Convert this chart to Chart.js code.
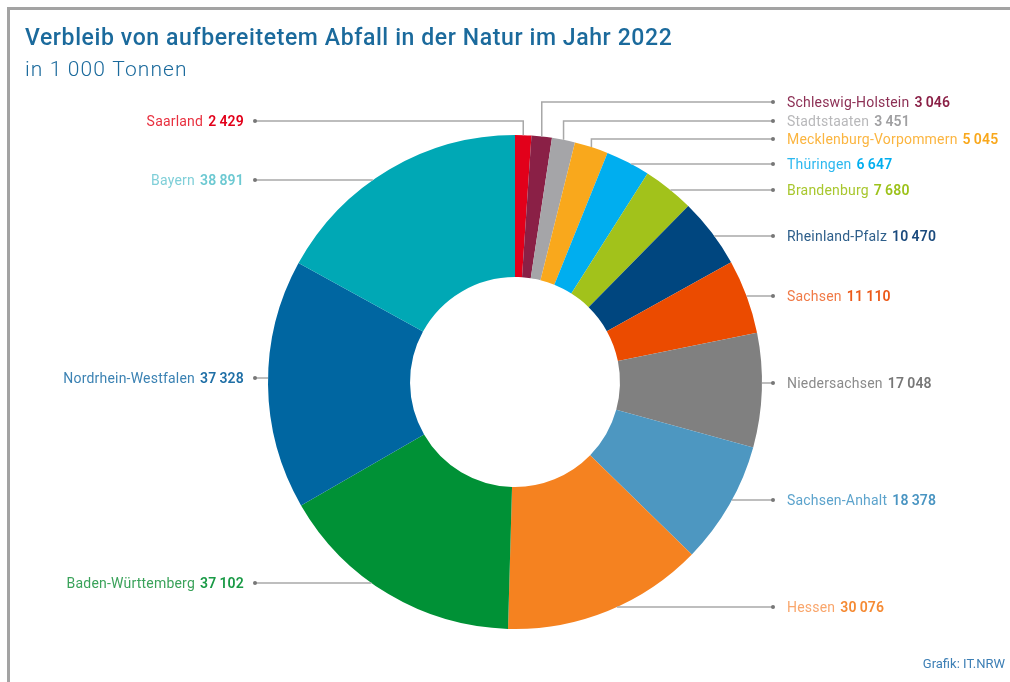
<!DOCTYPE html>
<html lang="de">
<head>
<meta charset="utf-8">
<title>Verbleib von aufbereitetem Abfall in der Natur im Jahr 2022</title>
<script src="https://cdn.jsdelivr.net/npm/chart.js@4"></script>
<style>
  html, body { margin: 0; padding: 0; background: #fff; }
  canvas { display: block; }
</style>
</head>
<body>
<canvas id="abfallChart" width="1010" height="682"></canvas>
<script>
// Werte in 1 000 Tonnen, im Uhrzeigersinn ab 12 Uhr
const regions = [
    'Saarland', 'Schleswig-Holstein', 'Stadtstaaten', 'Mecklenburg-Vorpommern',
    'Thüringen', 'Brandenburg', 'Rheinland-Pfalz', 'Sachsen', 'Niedersachsen',
    'Sachsen-Anhalt', 'Hessen', 'Baden-Württemberg', 'Nordrhein-Westfalen', 'Bayern'
];
const tonnes = [2429, 3046, 3451, 5045, 6647, 7680, 10470, 11110, 17048, 18378, 30076, 37102, 37328, 38891];

const sliceColors = [
    '#e2001a', '#8a2046', '#a5a5a8', '#f9a81c', '#00aeef', '#a2c21b', '#00467f',
    '#eb4b00', '#808080', '#4d97c1', '#f58220', '#009136', '#0066a1', '#00a8b5'
];
const nameColors = [
    '#e8303f', '#8d3055', '#b8b8ba', '#fbb540', '#2cb8ef', '#a8c72e', '#2d5e8a',
    '#f07a47', '#8a8a8a', '#5ca3cc', '#f9a66c', '#3aa25a', '#3b82b3', '#7fcfd8'
];
const valueColors = [
    '#e2001a', '#8a2046', '#a0a0a2', '#f9a81c', '#00aeef', '#9dc21b', '#1a4a7d',
    '#ec5a1a', '#777777', '#4a95c2', '#f58a33', '#1a9a46', '#1f6fa6', '#6dc9d2'
];

// Lage der Beschriftungen (Layout, keine Daten)
const labelSide = ['L', 'R', 'R', 'R', 'R', 'R', 'R', 'R', 'R', 'R', 'R', 'L', 'L', 'L'];
const labelY = [121, 102, 121, 139, 164, 190, 236, 296, 383, 500, 607, 583, 378, 180];
const leftDotX = 255;
const rightDotX = 773;

function fmt(v) {
    return String(v).replace(/\B(?=(\d{3})+(?!\d))/g, '\u2009');
}

const FONT = 'Roboto, "Noto Sans", sans-serif';

const decorations = {
    id: 'decorations',
    afterDraw(chart) {
        const ctx = chart.ctx;
        const arcs = chart.getDatasetMeta(0).data;
        ctx.save();

        // Rahmen
        ctx.fillStyle = '#a3a3a3';
        ctx.fillRect(7, 7, 1003, 3);
        ctx.fillRect(7, 7, 3, 675);

        // Titel
        ctx.textBaseline = 'alphabetic';
        ctx.textAlign = 'left';
        ctx.fillStyle = '#1b6a9c';
        ctx.font = '500 23px ' + FONT;
        ctx.letterSpacing = '0.6px';
        ctx.fillText('Verbleib von aufbereitetem Abfall in der Natur im Jahr 2022', 25, 45);
        ctx.font = '300 21px ' + FONT;
        ctx.letterSpacing = '1.1px';
        ctx.fillText('in 1\u2009000 Tonnen', 25, 76);
        ctx.letterSpacing = '0px';

        // Quelle
        ctx.textAlign = 'right';
        ctx.font = '400 13px ' + FONT;
        ctx.fillStyle = '#3d7fb5';
        ctx.fillText('Grafik: IT.NRW', 1005, 668);

        // Führungslinien und Beschriftungen
        arcs.forEach((arc, i) => {
            const { x: cx, y: cy, outerRadius: r, startAngle, endAngle } = arc.getProps(
                ['x', 'y', 'outerRadius', 'startAngle', 'endAngle'], true);
            const ly = labelY[i];
            const left = labelSide[i] === 'L';
            const dotX = left ? leftDotX : rightDotX;
            const dy = ly - cy;
            let pts;
            if (Math.abs(dy) < r) {
                const dx = Math.sqrt(r * r - dy * dy);
                const hx = left ? cx - dx : cx + dx;
                let a = Math.atan2(dy, hx - cx);
                while (a < startAngle) a += Math.PI * 2;
                if (a <= endAngle) {
                    pts = [[hx, ly], [dotX, ly]];
                }
            }
            if (!pts) {
                const mid = (startAngle + endAngle) / 2;
                const px = cx + Math.cos(mid) * r;
                const py = cy + Math.sin(mid) * r;
                pts = [[px, py], [px, ly], [dotX, ly]];
            }
            ctx.strokeStyle = '#a8a8a8';
            ctx.lineWidth = 1.5;
            ctx.beginPath();
            pts.forEach((p, k) => k ? ctx.lineTo(p[0], p[1]) : ctx.moveTo(p[0], p[1]));
            ctx.stroke();
            ctx.fillStyle = '#777';
            ctx.beginPath();
            ctx.arc(dotX, ly, 2, 0, Math.PI * 2);
            ctx.fill();

            const name = chart.data.labels[i];
            const val = fmt(chart.data.datasets[0].data[i]);
            ctx.textBaseline = 'middle';
            ctx.textAlign = 'left';
            ctx.letterSpacing = '0.2px';
            ctx.font = '400 14px ' + FONT;
            const nw = ctx.measureText(name).width;
            ctx.font = '600 14px ' + FONT;
            const vw = ctx.measureText(val).width;
            const gap = 5;
            const tx = left ? dotX - 11 - vw - gap - nw : dotX + 14;
            ctx.font = '400 14px ' + FONT;
            ctx.fillStyle = nameColors[i];
            ctx.fillText(name, tx, ly + 1);
            ctx.font = '600 14px ' + FONT;
            ctx.fillStyle = valueColors[i];
            ctx.fillText(val, tx + nw + gap, ly + 1);
            ctx.letterSpacing = '0px';
        });
        ctx.restore();
    }
};

const ctx = document.getElementById('abfallChart').getContext('2d');
new Chart(ctx, {
    type: 'doughnut',
    data: {
        labels: regions,
        datasets: [{
            data: tonnes,
            backgroundColor: sliceColors,
            borderWidth: 0
        }]
    },
    options: {
        responsive: false,
        animation: false,
        events: [],
        cutout: '42.5%',
        layout: {
            padding: { left: 268, right: 248, top: 135, bottom: 53 }
        },
        plugins: {
            legend: { display: false },
            title: { display: false },
            tooltip: { enabled: false }
        }
    },
    plugins: [decorations]
});
</script>
</body>
</html>
